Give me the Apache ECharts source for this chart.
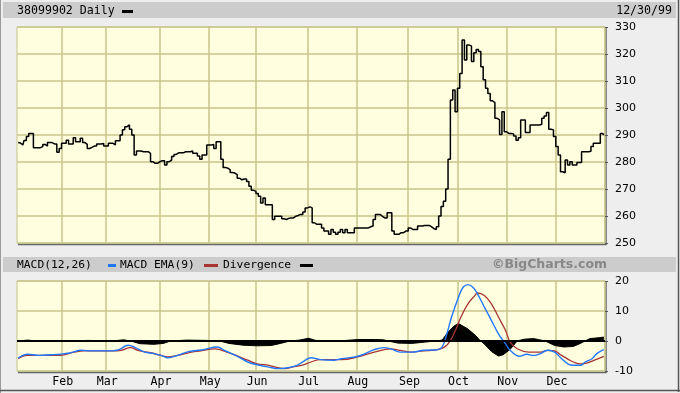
<!DOCTYPE html>
<html>
<head>
<meta charset="utf-8">
<script src="https://cdn.jsdelivr.net/npm/echarts@6/dist/echarts.min.js"></script>
<style>
html,body{margin:0;padding:0;background:#eeeeee;}
#chart{width:680px;height:393px;}
</style>
</head>
<body>
<div id="chart"></div>
<script>
// ---- data ----
const monthNames = ['Jan','Feb','Mar','Apr','May','Jun','Jul','Aug','Sep','Oct','Nov','Dec'];
const tradingDays = [19,19,23,21,20,22,21,22,21,21,21,21];

// daily closing price, one value per trading day of 1999
const price = [
287.2,287.0,286.3,288.0,289.4,290.6,290.6,285.3,285.3,285.3,
285.7,286.5,285.9,287.2,287.2,286.7,286.7,283.6,285.0,286.9,
286.9,288.1,286.7,286.7,289.0,287.5,287.5,288.8,287.2,286.5,
285.0,285.4,285.9,285.9,286.7,286.7,286.9,285.9,285.9,286.9,
286.9,286.3,287.9,287.9,290.0,291.9,293.1,293.8,292.1,290.0,
282.6,284.1,284.1,283.8,283.8,283.8,283.2,280.1,279.5,279.5,
280.1,280.5,280.5,278.9,280.1,280.7,282.0,282.8,283.4,283.4,
283.4,283.8,283.8,283.8,284.1,283.2,283.2,282.2,281.0,282.6,
282.6,286.3,286.3,286.5,285.0,287.5,287.5,281.0,278.0,277.7,
277.1,276.1,275.9,275.3,274.0,273.4,273.7,273.7,272.8,271.0,
269.5,269.1,268.3,267.3,264.8,266.7,264.2,264.2,264.2,258.7,
259.9,259.9,259.9,259.0,258.7,259.1,259.3,259.3,259.9,260.2,
260.6,260.6,261.5,263.0,263.4,263.0,257.5,256.9,256.9,256.9,
255.6,254.4,254.4,253.2,255.0,254.0,253.2,254.0,255.0,253.8,
255.0,253.8,253.8,253.8,255.6,255.6,255.6,255.6,255.6,255.6,
256.0,256.3,258.7,260.6,260.6,259.9,259.3,259.3,261.2,261.2,
254.4,253.2,253.2,253.8,253.8,254.4,254.4,255.6,255.0,255.0,
255.0,256.3,256.3,256.5,256.5,256.5,256.0,255.3,255.0,256.0,
260.0,263.5,265.5,270.0,281.0,303.0,306.7,298.6,307.3,312.8,
325.2,317.8,323.3,323.0,317.2,320.5,321.7,320.9,315.3,310.5,
307.3,305.4,302.7,302.0,296.2,295.6,290.2,298.6,291.2,290.6,
290.6,290.4,289.6,288.1,289.0,295.6,295.6,290.9,290.9,293.7,
293.7,293.7,293.7,294.0,296.2,297.0,298.3,292.1,291.9,289.4,
285.7,282.6,276.4,276.0,280.7,278.9,280.1,278.9,278.9,279.8,
279.8,283.8,283.8,283.8,284.0,285.7,286.9,286.9,286.9,290.6,
290.0
];

// MACD(12,26) line, [trading-day index, value]
const macdLine = [
[0,-5.7],[4,-4.4],[9,-4.8],[14,-4.6],[18,-4.4],[22,-4.0],[27,-3.1],[31,-3.3],[40,-3.3],
[43,-2.9],[47,-1.4],[50,-2.2],[54,-3.7],[58,-4.2],[62,-5.1],[64,-5.6],[68,-4.8],[72,-3.7],
[77,-3.1],[79,-2.9],[85,-2.0],[88,-3.1],[94,-5.3],[98,-7.0],[102,-7.9],[107,-8.7],[111,-9.2],
[115,-8.9],[119,-8.1],[122,-6.7],[125,-5.6],[129,-6.2],[135,-6.4],[138,-5.9],[145,-5.1],
[152,-2.9],[156,-2.2],[159,-2.6],[163,-3.7],[168,-3.7],[173,-3.1],[179,-2.9],[181,-2.0],
[183,2.4],[185,8.0],[188,14.7],[190,18.0],[192,18.8],[194,18.0],[196,15.8],[199,11.3],
[202,6.9],[205,2.4],[208,-0.9],[210,-3.1],[214,-5.1],[217,-4.4],[220,-4.8],[223,-4.2],
[226,-3.1],[229,-3.7],[232,-5.9],[235,-7.8],[237,-8.1],[240,-8.1],[242,-7.0],[245,-5.9],
[247,-4.2],[250,-2.9]
];

// MACD EMA(9) signal line, [trading-day index, value]
const emaLine = [
[0,-5.9],[4,-4.8],[14,-4.8],[18,-4.8],[24,-3.7],[28,-3.3],[40,-3.3],[44,-3.1],[48,-2.2],
[51,-3.1],[57,-4.0],[61,-4.8],[64,-5.3],[68,-4.8],[74,-3.7],[78,-3.3],[84,-2.6],[87,-3.1],
[93,-4.8],[98,-6.4],[102,-7.6],[107,-8.1],[111,-8.9],[114,-9.2],[117,-8.7],[121,-8.1],
[125,-7.0],[129,-6.2],[135,-6.2],[138,-6.2],[145,-5.3],[152,-3.7],[159,-2.6],[163,-3.1],
[168,-3.7],[173,-3.3],[179,-2.9],[183,-1.4],[186,2.4],[189,8.0],[192,12.4],[195,15.2],
[196,16.0],[199,15.2],[202,12.4],[205,8.0],[208,3.6],[210,-0.3],[213,-2.6],[218,-3.7],
[223,-3.7],[226,-3.1],[229,-3.3],[232,-4.8],[235,-6.2],[237,-7.0],[240,-7.6],[243,-7.3],
[246,-6.4],[250,-5.1]
];

// Divergence histogram, [trading-day index, value]
const divergence = [
[0,0],[4,0.3],[8,0],[20,0],[30,0.2],[40,0],[45,0.4],[48,0],[52,-0.9],[58,-1.1],[62,-0.8],
[65,0],[72,0.3],[80,0.2],[86,0],[90,-0.8],[96,-1.4],[102,-1.6],[108,-1.5],[112,-0.8],
[116,0],[120,0.3],[124,0.9],[127,0.2],[134,0],[140,0.2],[145,0.5],[152,0.5],[156,0.4],
[158,0],[162,-0.7],[168,-0.8],[172,-0.5],[178,0],[181,0.3],[183,2.5],[186,5.0],[188,5.8],
[192,4.0],[195,2.0],[197,0.3],[199,-1.0],[202,-3.5],[205,-5.0],[207,-4.6],[210,-2.8],
[213,0],[216,0.6],[220,0.8],[222,0.5],[225,0],[229,-1.5],[233,-2.0],[237,-1.8],[240,-0.8],
[242,0],[244,0.8],[248,1.1],[250,1.3]
];

// ---- build categories ----
const categories = [];
const monthStart = new Set();
tradingDays.forEach((n, m) => {
  for (let d = 1; d <= n; d++) {
    if (d === 1 && m > 0) monthStart.add(categories.length);
    categories.push(monthNames[m] + ' ' + d);
  }
});

const GRID_BG = '#ffffe0';
const GRID_LINE = '#c8c48c';
const MONO = '"DejaVu Sans Mono", monospace';
const SANS = '"DejaVu Sans", Verdana, sans-serif';

function xAxisFor(gi, showLabels) {
  return {
    type: 'category', gridIndex: gi, data: categories, boundaryGap: true,
    axisLine: {show: false}, axisTick: {show: false},
    axisLabel: {
      show: showLabels, interval: (i) => monthStart.has(i), margin: 5,
      formatter: (v) => v.split(' ')[0],
      fontFamily: MONO, fontSize: 11.6, color: '#000'
    },
    splitLine: {show: true, interval: (i) => monthStart.has(i), lineStyle: {color: GRID_LINE, width: 1.5}}
  };
}

const chart = echarts.init(document.getElementById('chart'), null, {renderer: 'canvas'});
chart.setOption({
  backgroundColor: '#eeeeee',
  animation: false,
  grid: [
    {left: 17, top: 27, width: 588, height: 216, show: true, backgroundColor: GRID_BG, borderColor: GRID_LINE, borderWidth: 1},
    {left: 17, top: 281, width: 588, height: 90, show: true, backgroundColor: GRID_BG, borderColor: GRID_LINE, borderWidth: 1}
  ],
  xAxis: [xAxisFor(0, false), xAxisFor(1, true)],
  yAxis: [
    {type: 'value', gridIndex: 0, position: 'right', min: 250, max: 330, interval: 10,
     axisLine: {show: false}, axisTick: {show: true, length: 3, lineStyle: {color: '#555'}},
     axisLabel: {fontFamily: SANS, fontSize: 11, color: '#000', margin: 10},
     splitLine: {lineStyle: {color: GRID_LINE, width: 1.5}}},
    {type: 'value', gridIndex: 1, position: 'right', min: -10, max: 20, interval: 10,
     axisLine: {show: false}, axisTick: {show: true, length: 3, lineStyle: {color: '#555'}},
     axisLabel: {fontFamily: SANS, fontSize: 11, color: '#000', margin: 10},
     splitLine: {lineStyle: {color: GRID_LINE, width: 1.5}}}
  ],
  series: [
    {type: 'line', name: 'Daily', xAxisIndex: 0, yAxisIndex: 0, data: price, step: 'middle',
     showSymbol: false, lineStyle: {color: '#000', width: 1.5}},
    {type: 'line', name: 'Divergence', xAxisIndex: 1, yAxisIndex: 1, data: divergence,
     showSymbol: false, connectNulls: true, lineStyle: {color: '#000', width: 1},
     areaStyle: {color: '#000', opacity: 1},
     markLine: {silent: true, symbol: 'none', label: {show: false},
       lineStyle: {color: '#000', width: 2, type: 'solid'}, data: [{yAxis: 0}]}},
    {type: 'line', name: 'MACD EMA(9)', xAxisIndex: 1, yAxisIndex: 1, data: emaLine, smooth: 0.4,
     showSymbol: false, lineStyle: {color: '#a83434', width: 1.3}},
    {type: 'line', name: 'MACD(12,26)', xAxisIndex: 1, yAxisIndex: 1, data: macdLine, smooth: 0.4,
     showSymbol: false, lineStyle: {color: '#2277ff', width: 1.4}}
  ],
  graphic: [
    // outer frame
    {type: 'line', shape: {x1: 0.5, y1: 0, x2: 0.5, y2: 393}, style: {stroke: '#9a9a9a', lineWidth: 1}},
    {type: 'line', shape: {x1: 678.5, y1: 0, x2: 678.5, y2: 392}, style: {stroke: '#555', lineWidth: 1.5}},
    {type: 'line', shape: {x1: 0, y1: 390.5, x2: 680, y2: 390.5}, style: {stroke: '#555', lineWidth: 1.5}},
    // header bars
    {type: 'rect', shape: {x: 3, y: 2, width: 673, height: 16}, style: {fill: '#cccccc'}},
    {type: 'rect', shape: {x: 3, y: 257, width: 673, height: 15}, style: {fill: '#cccccc'}},
    // plot shadows
    {type: 'polyline', shape: {points: [[18, 244.5], [606, 244.5], [606, 28]]}, style: {stroke: '#666', lineWidth: 1.5, fill: null}},
    {type: 'polyline', shape: {points: [[18, 372.5], [606, 372.5], [606, 282]]}, style: {stroke: '#666', lineWidth: 1.5, fill: null}},
    // top header texts
    {type: 'text', x: 17, y: 11, style: {text: '38099902 Daily', font: '11.6px ' + MONO, fill: '#000', textVerticalAlign: 'middle'}},
    {type: 'rect', shape: {x: 122, y: 10, width: 11, height: 3}, style: {fill: '#000'}},
    {type: 'text', x: 672, y: 11, style: {text: '12/30/99', font: '11.6px ' + MONO, fill: '#000', textAlign: 'right', textVerticalAlign: 'middle'}},
    // MACD legend
    {type: 'text', x: 17, y: 265, style: {text: 'MACD(12,26)', font: '11.3px ' + MONO, fill: '#000', textVerticalAlign: 'middle'}},
    {type: 'rect', shape: {x: 108, y: 264, width: 8, height: 3}, style: {fill: '#2277ff'}},
    {type: 'text', x: 120, y: 265, style: {text: 'MACD EMA(9)', font: '11.3px ' + MONO, fill: '#000', textVerticalAlign: 'middle'}},
    {type: 'rect', shape: {x: 204, y: 264, width: 14, height: 3}, style: {fill: '#a83434'}},
    {type: 'text', x: 223, y: 265, style: {text: 'Divergence', font: '11.3px ' + MONO, fill: '#000', textVerticalAlign: 'middle'}},
    {type: 'rect', shape: {x: 300, y: 264, width: 13, height: 3}, style: {fill: '#000'}},
    {type: 'text', x: 607, y: 265, style: {text: '\u00A9BigCharts.com', font: 'bold 12.5px ' + SANS, fill: '#888', textAlign: 'right', textVerticalAlign: 'middle'}}
  ]
});
</script>
</body>
</html>
